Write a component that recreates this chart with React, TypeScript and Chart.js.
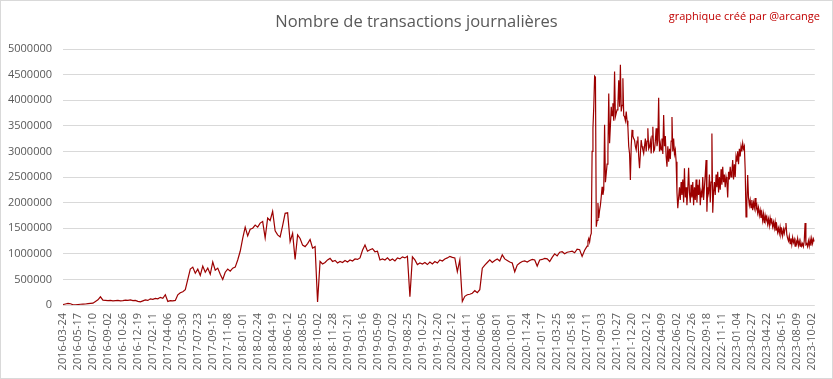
import React, { useEffect, useRef } from "react";
import { Chart, registerables } from "chart.js";

Chart.register(...registerables);

const TITLE = "Nombre de transactions journalières";
const CREDIT = "graphique créé par @arcange";

// Tick labels shown on the day axis, one every 54 days
const tickLabels = [
  "2016-03-24", "2016-05-17", "2016-07-10", "2016-09-02", "2016-10-26", "2016-12-19",
  "2017-02-11", "2017-04-06", "2017-05-30", "2017-07-23", "2017-09-15", "2017-11-08",
  "2018-01-01", "2018-02-24", "2018-04-19", "2018-06-12", "2018-08-05", "2018-10-02",
  "2018-11-28", "2019-01-21", "2019-03-16", "2019-05-09", "2019-07-02", "2019-08-25",
  "2019-10-27", "2019-12-20", "2020-02-12", "2020-04-11", "2020-06-06", "2020-08-01",
  "2020-10-01", "2020-11-24", "2021-01-17", "2021-03-25", "2021-05-18", "2021-07-11",
  "2021-09-03", "2021-10-27", "2021-12-20", "2022-02-12", "2022-04-09", "2022-06-02",
  "2022-07-26", "2022-09-18", "2022-11-11", "2023-01-04", "2023-02-27", "2023-04-22",
  "2023-06-15", "2023-08-09", "2023-10-02",
];

const LABEL_EVERY_DAYS = 54;
const LAST_DAY = 2711;

// Period 1 (2016-03-24 .. 2021-06): daily transactions in thousands, one reading every 9 days
const STEP_A = 9;
const txThousandsA = [
  10, 20, 30, 25, 5, 5, 10, 15, 18, 20, 25, 30,
  35, 70, 100, 160, 95, 90, 85, 90, 80, 85, 90, 80,
  85, 95, 90, 100, 85, 90, 70, 60, 80, 100, 90, 120,
  110, 130, 120, 150, 130, 200, 70, 85, 80, 90, 200, 240,
  260, 300, 500, 700, 740, 620, 700, 580, 760, 640, 720, 600,
  840, 680, 720, 600, 500, 640, 700, 660, 720, 740, 880, 1050,
  1300, 1520, 1350, 1480, 1500, 1560, 1520, 1600, 1630, 1310, 1700, 1650,
  1830, 1450, 1370, 1330, 1550, 1790, 1800, 1240, 1400, 890, 1370, 1300,
  1170, 1140, 1200, 1280, 1110, 1140, 60, 850, 800, 830, 880, 910,
  850, 870, 820, 850, 830, 870, 840, 880, 860, 900, 890, 920,
  1070, 1170, 1050, 1080, 1100, 1040, 1050, 880, 900, 880, 920, 870,
  900, 860, 920, 900, 940, 920, 950, 160, 940, 880, 790, 820,
  800, 830, 790, 840, 800, 850, 820, 880, 860, 900, 920, 950,
  930, 920, 650, 880, 70, 170, 200, 210, 230, 280, 240, 300,
  720, 780, 830, 880, 830, 870, 900, 860, 980, 900, 870, 840,
  820, 650, 780, 820, 850, 860, 840, 870, 890, 880, 760, 880,
  890, 910, 900, 850, 930, 1000, 960, 1030, 1040, 1000, 1030, 1040,
  1050, 1020, 1090, 1080, 950, 1070,
];

// Period 2 (from day 1890, 2021-06): daily transactions in thousands, one reading every 3 days
const START_B = 1890;
const STEP_B = 3;
const txThousandsB = [
  1150, 1250, 1300, 1230, 1350, 1400, 3000, 3450, 3870, 4470, 4450, 1530,
  1650, 1990, 1700, 1850, 1950, 2120, 2310, 2150, 2250, 3520, 2400, 2570,
  2750, 2960, 4130, 3160, 3500, 3870, 3700, 3940, 3600, 4560, 3680, 3750,
  3810, 3900, 4390, 3870, 4690, 3780, 3900, 4430, 3700, 3680, 3600, 3780,
  3600, 3480, 3100, 2960, 2440, 3100, 3420, 3300, 3250, 3220, 3100, 3030,
  3200, 3290, 2900, 2670, 2950, 3220, 3100, 3030, 2960, 3100, 3250, 3000,
  3200, 3450, 3050, 3090, 3200, 2960, 3300, 3480, 3000, 3030, 3200, 3450,
  3100, 3220, 4050, 3000, 3150, 3030, 3250, 2950, 3710, 3100, 3300, 2900,
  2700, 3100, 2800, 3050, 2850, 3200, 3670, 3000, 3250, 2950, 3030, 2800,
  2200, 1890, 2100, 2300, 2050, 2400, 2150, 2450, 2000, 2670, 2100, 2300,
  1950, 2250, 2680, 2200, 2000, 2350, 2100, 2400, 1950, 2300, 2050, 2450,
  2000, 2350, 2150, 2450, 1950, 2200, 2100, 2500, 2050, 2300, 2550, 2830,
  1820, 2300, 2200, 2550, 2000, 2400, 3350, 1800, 2200, 2400, 2150, 2550,
  2300, 2600, 2200, 2500, 2250, 2650, 2350, 2700, 2400, 2550, 2300, 2500,
  2400, 2100, 2600, 2450, 2700, 2500, 2600, 2830, 2450, 2750, 2500, 2900,
  2800, 3000, 2750, 3050, 2900, 3100, 3000, 3160, 3050, 3100, 2640, 1720,
  2000, 2540, 2100, 1950, 2050, 1900, 2050, 1850, 2000, 1900, 2090, 1880,
  1950, 1800, 1900, 1750, 1850, 1700, 1800, 1650, 1780, 1600, 1750, 1650,
  1720, 1580, 1680, 1550, 1700, 1600, 1650, 1530, 1620, 1500, 1620, 1450,
  1550, 1420, 1500, 1400, 1520, 1380, 1460, 1350, 1480, 1400, 1500, 1600,
  1380, 1300, 1250, 1350, 1200, 1300, 1180, 1320, 1220, 1280, 1150, 1250,
  1200, 1300, 1160, 1250, 1150, 1220, 1150, 1200, 1140, 1250, 1600, 1180,
  1200, 1140, 1250, 1150, 1280, 1160, 1300, 1200, 1290, 1240,
];

const Y_MAX = 5000000;
const Y_STEP = 500000;

const textPlugin = {
  id: "textsAndFrame",
  beforeDraw(chart: any) {
    const { ctx, width, height } = chart;
    ctx.save();
    ctx.fillStyle = "#ffffff";
    ctx.fillRect(0, 0, width, height);
    ctx.restore();
  },
  afterDraw(chart: any) {
    const { ctx, width, height } = chart;
    ctx.save();
    ctx.fillStyle = "#595959";
    ctx.font = '16.5px "Open Sans"';
    ctx.textAlign = "center";
    ctx.textBaseline = "middle";
    ctx.fillText(TITLE, width / 2, 22);
    ctx.fillStyle = "#c00000";
    ctx.font = '11px "Open Sans"';
    ctx.textAlign = "right";
    ctx.fillText(CREDIT, 820, 17);
    ctx.strokeStyle = "#d9d9d9";
    ctx.lineWidth = 1;
    ctx.strokeRect(0.5, 0.5, width - 1, height - 1);
    ctx.restore();
  },
};

export default function App() {
  const ref = useRef<HTMLCanvasElement>(null);
  useEffect(() => {
    const points = [
      ...txThousandsA.map((v, i) => ({ x: i * STEP_A, y: v * 1000 })),
      ...txThousandsB.map((v, j) => ({ x: START_B + j * STEP_B, y: v * 1000 })),
    ];
    const chart = new Chart(ref.current as HTMLCanvasElement, {
      type: "line",
      data: {
        datasets: [
          {
            data: points,
            borderColor: "#9c0000",
            borderWidth: 1.2,
            pointRadius: 0,
            tension: 0,
          },
        ],
      },
      options: {
        animation: false,
        responsive: false,
        layout: { padding: { top: 49, right: 15, left: 0, bottom: 0 } },
        plugins: {
          legend: { display: false },
          tooltip: { enabled: false },
          title: { display: false },
        },
        scales: {
          x: {
            type: "linear",
            min: 0,
            max: LAST_DAY,
            grid: { display: false, drawTicks: false },
            border: { display: false },
            ticks: {
              stepSize: LABEL_EVERY_DAYS,
              includeBounds: false,
              autoSkip: false,
              maxRotation: 90,
              minRotation: 90,
              padding: 8,
              color: "#595959",
              font: { family: "Open Sans", size: 11 },
              callback: (v: any) => {
                const k = Math.round(v / LABEL_EVERY_DAYS);
                return Math.abs(v - k * LABEL_EVERY_DAYS) < 1e-6 ? tickLabels[k] ?? "" : "";
              },
            },
            afterFit: (s: any) => {
              s.height = 74;
            },
          },
          y: {
            min: 0,
            max: Y_MAX,
            grid: { color: "#d9d9d9", drawTicks: false },
            border: { display: false },
            ticks: {
              stepSize: Y_STEP,
              padding: 11,
              color: "#595959",
              font: { family: "Open Sans", size: 11 },
              callback: (v: any) => String(v),
            },
            afterFit: (s: any) => {
              s.width = 63;
            },
          },
        },
      },
      plugins: [textPlugin],
    } as any);
    return () => chart.destroy();
  }, []);
  return (
    <div style={{ position: "fixed", left: 0, top: 0, width: 833, height: 379, background: "#fff" }}>
      <canvas ref={ref} width={833} height={379} style={{ display: "block" }} />
    </div>
  );
}
